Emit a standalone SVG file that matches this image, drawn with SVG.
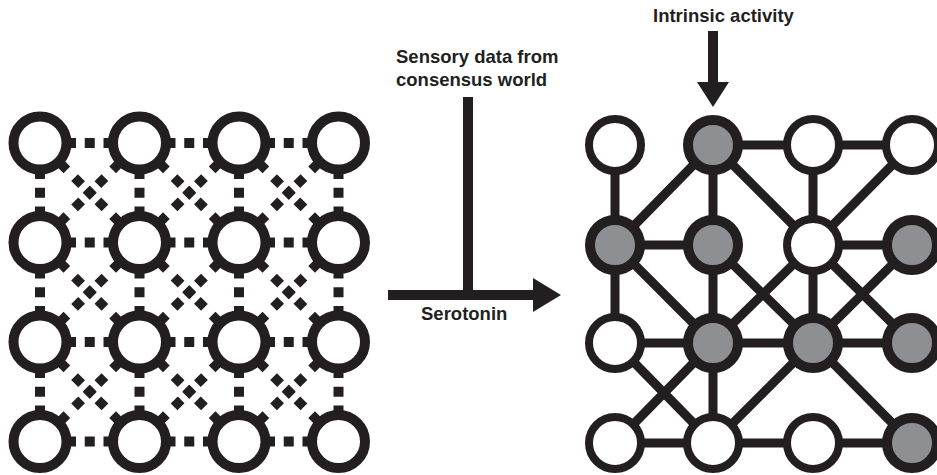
<svg xmlns="http://www.w3.org/2000/svg" width="937" height="475" viewBox="0 0 937 475">
<style>
text{font-family:"Liberation Sans",Arial,sans-serif;font-weight:bold;font-size:18.5px;fill:#231f20}
.h{stroke:#231f20;stroke-width:10;stroke-dasharray:36 8.75 10 8.75 36;fill:none}
.d{stroke:#231f20;stroke-width:9.5;stroke-dasharray:38 10.85 10 6.5 10 6.5 10 10.85 38;fill:none}
.ln{fill:#fff;stroke:#231f20;stroke-width:10}
.e{stroke:#231f20;stroke-width:9;fill:none}
.w{fill:#fff;stroke:#231f20;stroke-width:8}
.g{fill:#8d8f92;stroke:#231f20;stroke-width:10}
.ar{stroke:#231f20;stroke-width:10;fill:none}
</style>
<rect width="937" height="475" fill="#fff"/>
<g id="connectors">
<g id="left-links">
<path class="h" d="M40 143H139.5M139.5 143H239M239 143H338.5M40 242.5H139.5M139.5 242.5H239M239 242.5H338.5M40 342H139.5M139.5 342H239M239 342H338.5M40 441.5H139.5M139.5 441.5H239M239 441.5H338.5"/>
<path class="h" d="M40 143V242.5M40 242.5V342M40 342V441.5M139.5 143V242.5M139.5 242.5V342M139.5 342V441.5M239 143V242.5M239 242.5V342M239 342V441.5M338.5 143V242.5M338.5 242.5V342M338.5 342V441.5"/>
<path class="d" d="M40 143L139.5 242.5M139.5 143L40 242.5M139.5 143L239 242.5M239 143L139.5 242.5M239 143L338.5 242.5M338.5 143L239 242.5M40 242.5L139.5 342M139.5 242.5L40 342M139.5 242.5L239 342M239 242.5L139.5 342M239 242.5L338.5 342M338.5 242.5L239 342M40 342L139.5 441.5M139.5 342L40 441.5M139.5 342L239 441.5M239 342L139.5 441.5M239 342L338.5 441.5M338.5 342L239 441.5"/>
</g>
<g id="right-links">
<path class="e" d="M713 145H813M813 145H912M615 245H713M813 245H912M615 343H713M713 343H813M813 343H912M615 443H713M713 443H813M813 443H912"/>
<path class="e" d="M615 145V245M713 145V245M813 145V245M615 245V343M713 245V343M813 245V343M713 343V443"/>
<path class="e" d="M713 145L615 245M713 145L813 245M912 145L813 245M615 245L713 343M713 245L813 343M813 245L713 343M813 245L912 343M912 245L813 343M615 343L713 443M713 343L615 443M813 343L713 443M813 343L912 443"/>
</g>
<g id="serotonin-arrow">
<path class="ar" d="M388 295H535M468 97V295"/>
<polygon points="533,278 561,295 533,312" fill="#231f20"/>
</g>
<g id="intrinsic-arrow">
<path class="ar" d="M713 31V84"/>
<polygon points="697,82 729,82 713,107" fill="#231f20"/>
</g>
</g>
<g id="L11"><circle class="ln" cx="40" cy="143" r="26.5"/></g>
<g id="L21"><circle class="ln" cx="139.5" cy="143" r="26.5"/></g>
<g id="L31"><circle class="ln" cx="239" cy="143" r="26.5"/></g>
<g id="L41"><circle class="ln" cx="338.5" cy="143" r="26.5"/></g>
<g id="L12"><circle class="ln" cx="40" cy="242.5" r="26.5"/></g>
<g id="L22"><circle class="ln" cx="139.5" cy="242.5" r="26.5"/></g>
<g id="L32"><circle class="ln" cx="239" cy="242.5" r="26.5"/></g>
<g id="L42"><circle class="ln" cx="338.5" cy="242.5" r="26.5"/></g>
<g id="L13"><circle class="ln" cx="40" cy="342" r="26.5"/></g>
<g id="L23"><circle class="ln" cx="139.5" cy="342" r="26.5"/></g>
<g id="L33"><circle class="ln" cx="239" cy="342" r="26.5"/></g>
<g id="L43"><circle class="ln" cx="338.5" cy="342" r="26.5"/></g>
<g id="L14"><circle class="ln" cx="40" cy="441.5" r="26.5"/></g>
<g id="L24"><circle class="ln" cx="139.5" cy="441.5" r="26.5"/></g>
<g id="L34"><circle class="ln" cx="239" cy="441.5" r="26.5"/></g>
<g id="L44"><circle class="ln" cx="338.5" cy="441.5" r="26.5"/></g>
<g id="R11"><circle class="w" cx="615" cy="145" r="26"/></g>
<g id="R21"><circle class="g" cx="713" cy="145" r="25"/></g>
<g id="R31"><circle class="w" cx="813" cy="145" r="26"/></g>
<g id="R41"><circle class="w" cx="912" cy="145" r="26"/></g>
<g id="R12"><circle class="g" cx="615" cy="245" r="25"/></g>
<g id="R22"><circle class="g" cx="713" cy="245" r="25"/></g>
<g id="R32"><circle class="w" cx="813" cy="245" r="26"/></g>
<g id="R42"><circle class="g" cx="912" cy="245" r="25"/></g>
<g id="R13"><circle class="w" cx="615" cy="343" r="26"/></g>
<g id="R23"><circle class="g" cx="713" cy="343" r="25"/></g>
<g id="R33"><circle class="g" cx="813" cy="343" r="25"/></g>
<g id="R43"><circle class="g" cx="912" cy="343" r="25"/></g>
<g id="R14"><circle class="w" cx="615" cy="443" r="26"/></g>
<g id="R24"><circle class="w" cx="713" cy="443" r="26"/></g>
<g id="R34"><circle class="w" cx="813" cy="443" r="26"/></g>
<g id="R44"><circle class="g" cx="912" cy="443" r="25"/></g>
<g id="labels">
<text x="396" y="63">Sensory data from</text>
<text x="396" y="86">consensus world</text>
<text x="421" y="320">Serotonin</text>
<text x="653" y="22">Intrinsic activity</text>
</g>
</svg>
